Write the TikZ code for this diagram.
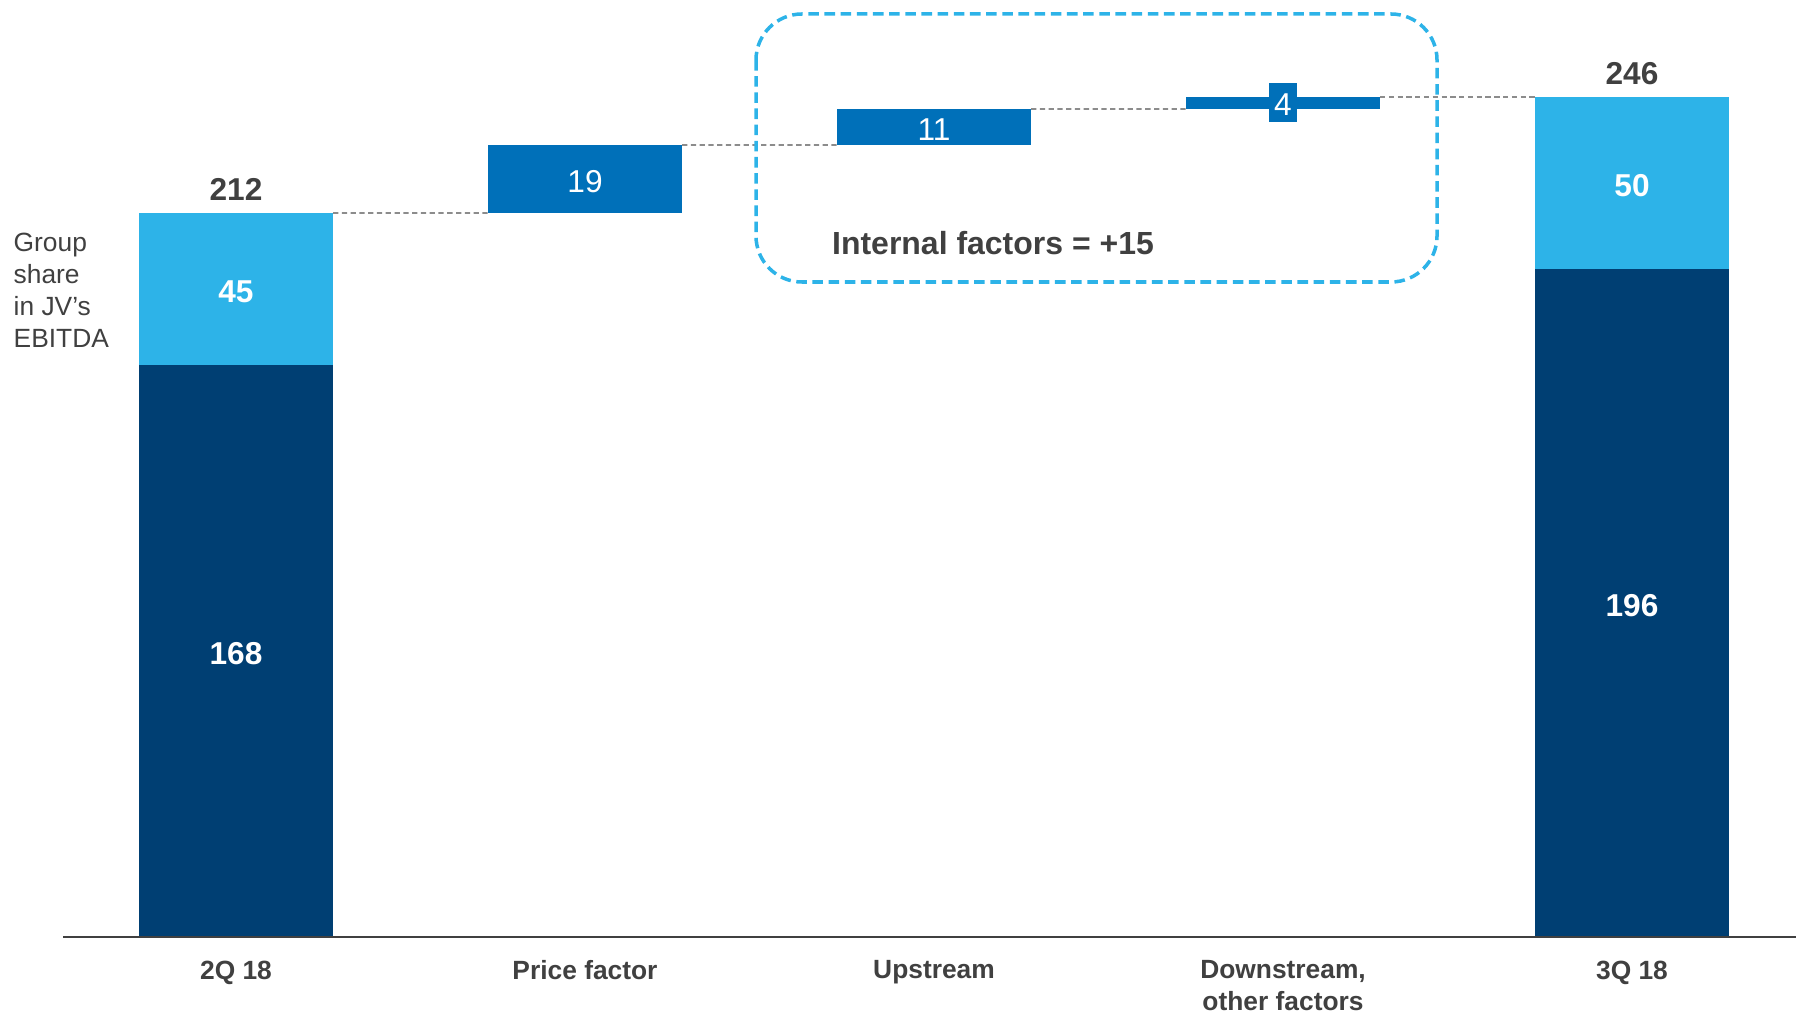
\documentclass[tikz,border=0pt]{standalone}
\usepackage{fontspec}
\setmainfont{Liberation Sans}
\usetikzlibrary{positioning}

\definecolor{navy}{HTML}{003F73}
\definecolor{skyblue}{HTML}{2DB3E8}
\definecolor{midblue}{HTML}{0070B9}
\definecolor{textgray}{HTML}{404040}
\definecolor{linkgray}{HTML}{8C8C8C}

\begin{document}
\begin{tikzpicture}[
  bar/.style={rectangle, inner sep=0pt, outer sep=0pt, minimum width=1.94cm,
    anchor=north west, text=white, text height=7.7pt, text depth=0pt,
    font=\fontsize{9}{11}\selectfont\bfseries},
  step bar/.style={bar, fill=midblue, font=\fontsize{9}{11}\selectfont},
  link/.style={draw=linkgray, line width=0.5pt, dash pattern=on 1.5pt off 1pt},
  total/.style={inner sep=0pt, text=textgray, font=\fontsize{9}{11}\selectfont\bfseries},
  cat/.style={inner sep=0pt, anchor=north, align=center, text=textgray,
    font=\fontsize{7.5}{9.1}\selectfont\bfseries},
  groupbox/.style={draw=skyblue, line width=1pt, dash pattern=on 3pt off 1.6pt,
    rounded corners=0.46cm}]

  \useasboundingbox (0,0) rectangle (17.96,-10.14);

  % start and end columns
  \node[bar, fill=skyblue, minimum height=1.52cm] (b1a) at (1.39,-2.13) {45};
  \node[bar, fill=navy, minimum height=5.72cm] (b1b) at (1.39,-3.65) {168};
  \node[bar, fill=skyblue, minimum height=1.72cm] (b5a) at (15.35,-0.97) {50};
  \node[bar, fill=navy, minimum height=6.68cm] (b5b) at (15.35,-2.69) {196};

  % steps
  \node[step bar, minimum height=0.68cm] (b2) at (4.88,-1.45) {19};
  \node[step bar, minimum height=0.36cm] (b3) at (8.37,-1.09) {11};
  \node[step bar, minimum height=0.12cm, text height=0pt] (b4) at (11.86,-0.97) {};
  \node[fill=midblue, text=white, inner sep=0pt, minimum width=0.28cm,
    minimum height=0.39cm, text height=7.2pt, text depth=0pt,
    font=\fontsize{9}{11}\selectfont] (v4) at (b4.center) {4};

  \draw[link] (b1a.north east) -- (b2.south west);
  \draw[link] (b2.north east) -- (b3.south west);
  \draw[link] (b3.north east) -- (b4.south west);
  \draw[link] (b4.north east) -- (b5a.north west);

  % totals
  \node[total, above=3.4pt of b1a.north] (t1) {212};
  \node[total, above=3.4pt of b5a.north] (t5) {246};

  % internal factors
  \draw[groupbox] (7.56,-0.14) rectangle (14.37,-2.82);
  \node[text=textgray, font=\fontsize{9.1}{11}\selectfont\bfseries] (internal)
    at (9.93,-2.43) {Internal factors = +15};

  \node[anchor=north west, inner sep=0pt, align=left, text=textgray,
    font=\fontsize{7.5}{9.1}\selectfont] (share) at (0.13,-2.32)
    {Group\\share\\in JV’s\\EBITDA};

  \draw[textgray, line width=0.8pt] (0.63,-9.37) -- (17.96,-9.37);

  % categories
  \node[cat] (c1) at (2.36,-9.60) {2Q 18};
  \node[cat] (c2) at (5.85,-9.60) {Price factor};
  \node[cat] (c3) at (9.34,-9.60) {Upstream};
  \node[cat] (c4) at (12.83,-9.60) {Downstream,\\other factors};
  \node[cat] (c5) at (16.32,-9.60) {3Q 18};
\end{tikzpicture}
\end{document}
